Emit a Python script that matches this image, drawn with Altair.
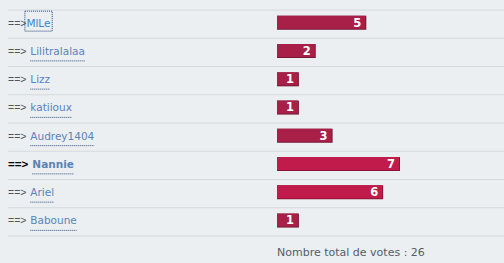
import altair as alt
import pandas as pd

# ---- data ----
names = ["MlLe", "Lilitralalaa", "Lizz", "katiioux", "Audrey1404", "Nannie", "Ariel", "Baboune"]
votes = [5, 2, 1, 1, 3, 7, 6, 1]
current_user = "Nannie"      # row drawn in bold
focused_name = "MlLe"        # row with the focus box
total_prefix = "Nombre total de votes : "

# ---- approximate glyph widths (em) used to size underlines ----
W_REG = {"M": .863, "l": .278, "L": .557, "e": .615, "i": .278, "t": .392, "r": .411, "a": .613,
         "z": .525, "k": .579, "o": .612, "u": .634, "x": .592, "A": .684, "d": .635, "y": .592,
         "1": .636, "4": .636, "0": .636, "N": .748, "n": .634, "B": .686, "b": .635}
W_BOLD = {"N": .837, "a": .675, "n": .712, "i": .343, "e": .678}
ARROW_W = 0.584  # Liberation Sans '=' and '>'
SPACE_W = 0.278


def tw(s, size, bold=False):
    tab = W_BOLD if bold else W_REG
    return sum(tab.get(c, W_REG.get(c, 0.6)) for c in s) * size


rows = []
for i, (n, v) in enumerate(zip(names, votes)):
    bold = n == current_user
    asize = 11.5 if bold else 10.5
    aw = 3 * ARROW_W * asize + (0 if n == focused_name else SPACE_W * asize + 1)
    nx = 8 + aw
    nw = tw(n, 10.5, bold)
    rows.append(dict(name=n, votes=v, mid=i + 0.5, bold=bold, arrow="==>",
                     nx=nx, nx2=nx + nw, fx=nx - 1.5, fx2=nx + nw + 1.5))
df = pd.DataFrame(rows)
lines = pd.DataFrame({"b": list(range(len(names) + 1))})
total_df = pd.DataFrame({"label": [total_prefix + str(sum(votes))], "mid": [len(names) + 0.5]})

yscale = alt.Scale(domain=[0, len(names)], range=[10, 236], padding=0, nice=False, zero=False)
xscale = alt.Scale(domain=[-0.3, 7], range=[277, 400], zero=False, nice=False, padding=0)
Y = lambda f: alt.Y(f + ":Q", scale=yscale, axis=None)
XB = alt.X("votes:Q", scale=xscale, axis=None)

base = alt.Chart(df)
is_bold = alt.datum.bold
not_bold = ~alt.datum.bold

rules = alt.Chart(lines).mark_rule(color="#d5dadf", strokeWidth=1).encode(
    x=alt.value(8), x2=alt.value(504), y=Y("b"))

bar_dark = base.mark_bar(orient="horizontal", height=14, yOffset=-1.3).encode(
    x=XB, x2=alt.datum(-0.3), y=Y("mid"),
    color=alt.condition(alt.datum.votes >= 6, alt.value("#8c1437"), alt.value("#7a1535")))
bar = base.mark_bar(orient="horizontal", height=13, yOffset=-1.8, xOffset=-1).encode(
    x=XB, x2=alt.datum(-0.3), y=Y("mid"),
    color=alt.condition(alt.datum.votes >= 6, alt.value("#c01b4b"), alt.value("#a81f48")))
bar_lab = base.mark_text(align="right", baseline="alphabetic", dx=-5, dy=2.6,
                         font="DejaVu Sans", fontWeight="bold", fontSize=11.5,
                         color="white").encode(x=XB, y=Y("mid"), text="votes:Q")

arrow_reg = base.transform_filter(not_bold).mark_text(
    align="left", baseline="alphabetic", dy=2.6, font="Liberation Sans", fontSize=10.5,
    color="#555555").encode(x=alt.value(8), y=Y("mid"), text="arrow:N")
arrow_bold = base.transform_filter(is_bold).mark_text(
    align="left", baseline="alphabetic", dy=2.6, font="Liberation Sans", fontSize=11.5,
    fontWeight="bold", color="#000000").encode(x=alt.value(8), y=Y("mid"), text="arrow:N")

name_reg = base.transform_filter(not_bold).mark_text(
    align="left", baseline="alphabetic", dy=2.6, font="DejaVu Sans", fontSize=10.5).encode(
    x=alt.X("nx:Q", scale=None), y=Y("mid"), text="name:N",
    color=alt.condition(alt.datum.name == focused_name, alt.value("#3b82d2"), alt.value("#5b83b5")))
name_bold = base.transform_filter(is_bold).mark_text(
    align="left", baseline="alphabetic", dy=2.6, font="DejaVu Sans", fontSize=10.5,
    fontWeight="bold", color="#5b83b5").encode(
    x=alt.X("nx:Q", scale=None), y=Y("mid"), text="name:N")

underline = base.transform_filter(alt.datum.name != focused_name).mark_rule(
    color="#2d4f80", strokeDash=[1, 1], strokeWidth=1, yOffset=8.5).encode(
    x=alt.X("nx:Q", scale=None), x2="nx2:Q", y=Y("mid"))

focus = base.transform_filter(alt.datum.name == focused_name).mark_rect(
    filled=False, stroke="#1f3f73", strokeDash=[1, 1], strokeWidth=1, yOffset=-13, y2Offset=7).encode(
    x=alt.X("fx:Q", scale=None), x2="fx2:Q", y=Y("mid"), y2="mid:Q")

total = alt.Chart(total_df).mark_text(align="left", baseline="alphabetic", dy=5.6,
                                      font="DejaVu Sans", fontSize=11, color="#555d66").encode(
    x=alt.value(277), y=Y("mid"), text="label:N")

chart = alt.layer(rules, bar_dark, bar, bar_lab, arrow_reg, arrow_bold, name_reg, name_bold,
                  underline, focus, total).properties(
    width=504, height=263, background="#ebeff2", padding=0,
    autosize=alt.AutoSizeParams(type="none"),
).configure_view(stroke=None)

chart.save("out.html", embed_options={"renderer": "svg", "actions": False})
